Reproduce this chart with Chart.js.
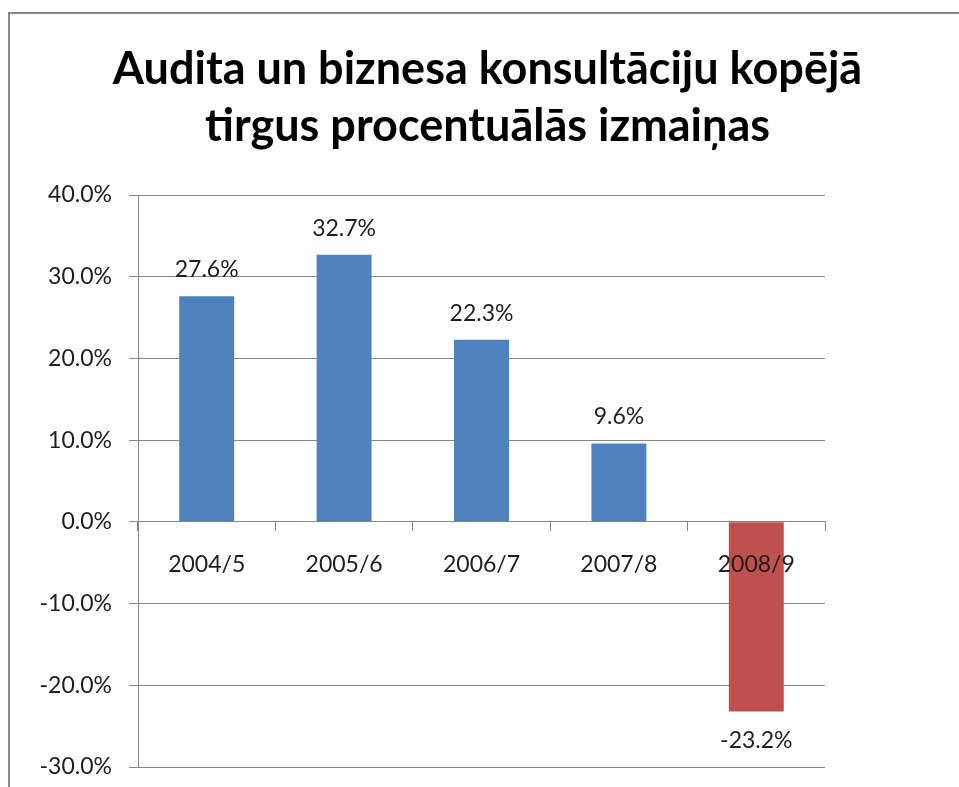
<!DOCTYPE html>
<html>
<head>
<meta charset="utf-8">
<script src="https://cdn.jsdelivr.net/npm/chart.js@4/dist/chart.umd.min.js"></script>
<style>
  html, body { margin: 0; padding: 0; background: #fff; overflow: hidden; }
  #wrap { position: relative; width: 959px; height: 787px; }
  #frame { position: absolute; left: 8px; top: 12px; width: 1000px; height: 1000px;
           border: 2px solid #878787; pointer-events: none; }
  canvas { position: absolute; left: 0; top: 0; }
</style>
</head>
<body>
<div id="wrap">
  <canvas id="c" width="959" height="787"></canvas>
  <div id="frame"></div>
</div>
<script>
const titleLines = ["Audita un biznesa konsultāciju kopējā", "tirgus procentuālās izmaiņas"];
const categories = ["2004/5", "2005/6", "2006/7", "2007/8", "2008/9"];
const values = [27.6, 32.7, 22.3, 9.6, -23.2];
const barColors = ["#4F81BD", "#4F81BD", "#4F81BD", "#4F81BD", "#C0504D"];
const yMin = -30, yMax = 40, yStep = 10;

const FONT = "Lato, 'Open Sans', sans-serif";
const GRID = "#878787";
const TEXT = "#1e1e1e";

const valueLabels = {
  id: "valueLabels",
  afterDatasetsDraw(chart) {
    const ctx = chart.ctx;
    const meta = chart.getDatasetMeta(0);
    ctx.save();
    ctx.font = "23px " + FONT;
    ctx.fillStyle = TEXT;
    ctx.textAlign = "center";
    ctx.textBaseline = "alphabetic";
    meta.data.forEach((bar, i) => {
      const v = chart.data.datasets[0].data[i];
      const txt = v.toFixed(1) + "%";
      if (v >= 0) ctx.fillText(txt, bar.x, bar.y - 19);
      else ctx.fillText(txt, bar.x, bar.y + 37);
    });
    ctx.restore();
  }
};

new Chart(document.getElementById("c"), {
  type: "bar",
  data: {
    labels: categories,
    datasets: [{
      data: values,
      backgroundColor: barColors,
      borderWidth: 0,
      barPercentage: 0.4,
      categoryPercentage: 1.0
    }]
  },
  options: {
    responsive: false,
    animation: false,
    events: [],
    layout: { padding: { left: 16, right: 0, top: 0, bottom: 20 } },
    plugins: {
      legend: { display: false },
      tooltip: { enabled: false },
      title: {
        display: true,
        text: titleLines,
        color: "#000",
        font: { family: FONT, size: 45, weight: "bold", lineHeight: 57 / 45 },
        padding: { top: 41, bottom: 40 }
      }
    },
    scales: {
      x: {
        position: { y: 0 },
        offset: true,
        grid: { display: true, drawOnChartArea: false, drawTicks: true, tickLength: 9, color: GRID, offset: true },
        border: { display: true, color: GRID, width: 1 },
        ticks: { z: 1, color: TEXT, font: { family: FONT, size: 23 }, padding: 20, maxRotation: 0, autoSkip: false },
        afterFit(s) { s.paddingLeft = 0; s.paddingRight = 0; }
      },
      y: {
        min: yMin, max: yMax,
        grid: { color: GRID, tickLength: 9, drawTicks: true },
        border: { display: true, color: GRID, width: 1 },
        ticks: {
          stepSize: yStep,
          color: TEXT,
          padding: 17,
          font: { family: FONT, size: 23 },
          callback: (v) => v.toFixed(1) + "%"
        },
        afterFit(s) { s.width = 122; s.paddingTop = 0; s.paddingBottom = 0; }
      },
      rightSpace: {
        type: "linear",
        position: "right",
        display: true,
        grid: { display: false, drawTicks: false },
        border: { display: false },
        ticks: { display: false },
        afterFit(s) { s.width = 134; s.paddingTop = 0; s.paddingBottom = 0; }
      }
    }
  },
  plugins: [valueLabels]
});
</script>
</body>
</html>
